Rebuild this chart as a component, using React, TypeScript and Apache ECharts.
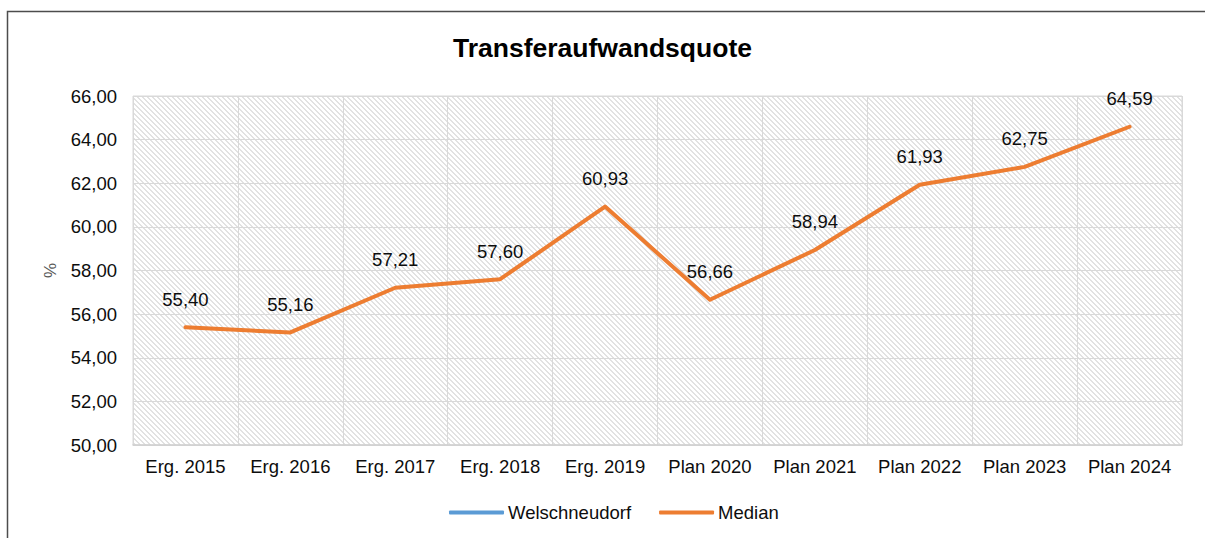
import React, { useEffect, useRef } from "react";
import * as echarts from "echarts";

const categories = [
  "Erg. 2015",
  "Erg. 2016",
  "Erg. 2017",
  "Erg. 2018",
  "Erg. 2019",
  "Plan 2020",
  "Plan 2021",
  "Plan 2022",
  "Plan 2023",
  "Plan 2024",
];
const welschneudorf: (number | null)[] = [null, null, null, null, null, null, null, null, null, null];
const median = [55.4, 55.16, 57.21, 57.6, 60.93, 56.66, 58.94, 61.93, 62.75, 64.59];
const yMin = 50;
const yMax = 66;
const yInterval = 2;

const FONT = '"Liberation Sans", Arial, sans-serif';
const fmt = (v: number) => v.toFixed(2).replace(".", ",");

function makePattern() {
  const n = 5;
  const c = document.createElement("canvas");
  c.width = n;
  c.height = n;
  const ctx = c.getContext("2d")!;
  ctx.fillStyle = "#ffffff";
  ctx.fillRect(0, 0, n, n);
  ctx.fillStyle = "#e2e2e2";
  for (let y = 0; y < n; y++) {
    for (let k = 0; k < 2; k++) ctx.fillRect((y + k) % n, y, 1, 1);
  }
  return c;
}

export default function App() {
  const ref = useRef<HTMLDivElement>(null);
  useEffect(() => {
    document.body.style.margin = "0";
    const chart = echarts.init(ref.current!, null, { renderer: "svg" });
    chart.setOption({
      animation: false,
      backgroundColor: "#ffffff",
      textStyle: { fontFamily: FONT },
      title: {
        text: "Transferaufwandsquote",
        left: "center",
        top: 34,
        padding: 0,
        textStyle: { fontFamily: FONT, fontSize: 26.5, fontWeight: "bold", color: "#000000" },
      },
      graphic: [
        {
          type: "rect",
          shape: { x: 7.5, y: 11.5, width: 1230, height: 570 },
          style: { fill: "none", stroke: "#4d4d4d", lineWidth: 1.5 },
          silent: true,
        },
      ],
      legend: {
        top: 503,
        left: 449,
        padding: 0,
        icon: "roundRect",
        itemWidth: 55,
        itemHeight: 4,
        itemGap: 28,
        textStyle: { fontFamily: FONT, fontSize: 18.5, color: "#0d0d0d", padding: [0, 0, 0, -1] },
        data: [
          { name: "Welschneudorf", itemStyle: { color: "#5b9bd5", opacity: 1 } },
          { name: "Median", itemStyle: { color: "#ed7d31", opacity: 1 } },
        ],
      },
      grid: {
        left: 133,
        top: 96,
        width: 1049,
        height: 349,
        show: true,
        borderColor: "#d9d9d9",
        borderWidth: 1,
        backgroundColor: { image: makePattern(), repeat: "repeat" },
      },
      xAxis: {
        type: "category",
        data: categories,
        boundaryGap: true,
        axisLine: { show: true, lineStyle: { color: "#cfcfcf", width: 1.5 } },
        axisTick: { show: false },
        axisLabel: { interval: 0, margin: 12, fontSize: 18.5, color: "#0d0d0d", fontFamily: FONT },
        splitLine: { show: true, interval: 0, lineStyle: { color: "#d9d9d9", width: 1 } },
      },
      yAxis: {
        type: "value",
        min: yMin,
        max: yMax,
        interval: yInterval,
        name: "%",
        nameLocation: "middle",
        nameGap: 74,
        nameRotate: 90,
        nameTextStyle: { fontSize: 17, color: "#595959", fontFamily: FONT },
        axisLine: { show: false },
        axisTick: { show: false },
        axisLabel: { margin: 16, fontSize: 18.5, color: "#0d0d0d", fontFamily: FONT, formatter: (v: number) => fmt(v) },
        splitLine: { show: true, lineStyle: { color: "#d9d9d9", width: 1 } },
      },
      series: [
        {
          name: "Welschneudorf",
          type: "line",
          data: welschneudorf,
          symbol: "none",
          color: "#5b9bd5",
          itemStyle: { color: "#5b9bd5" },
          lineStyle: { width: 4, color: "#5b9bd5", cap: "round" },
        },
        {
          name: "Median",
          type: "line",
          data: median,
          symbol: "circle",
          symbolSize: 1,
          showSymbol: true,
          color: "#ed7d31",
          itemStyle: { color: "#ed7d31", opacity: 0 },
          lineStyle: { width: 4, color: "#ed7d31", cap: "round", join: "round" },
          label: {
            show: true,
            position: "top",
            distance: 18,
            fontSize: 18.5,
            color: "#0d0d0d",
            fontFamily: FONT,
            opacity: 1,
            formatter: (p: any) => fmt(p.value as number),
          },
        },
      ],
    });
    return () => chart.dispose();
  }, []);
  return <div ref={ref} style={{ width: 1205, height: 538 }} />;
}
